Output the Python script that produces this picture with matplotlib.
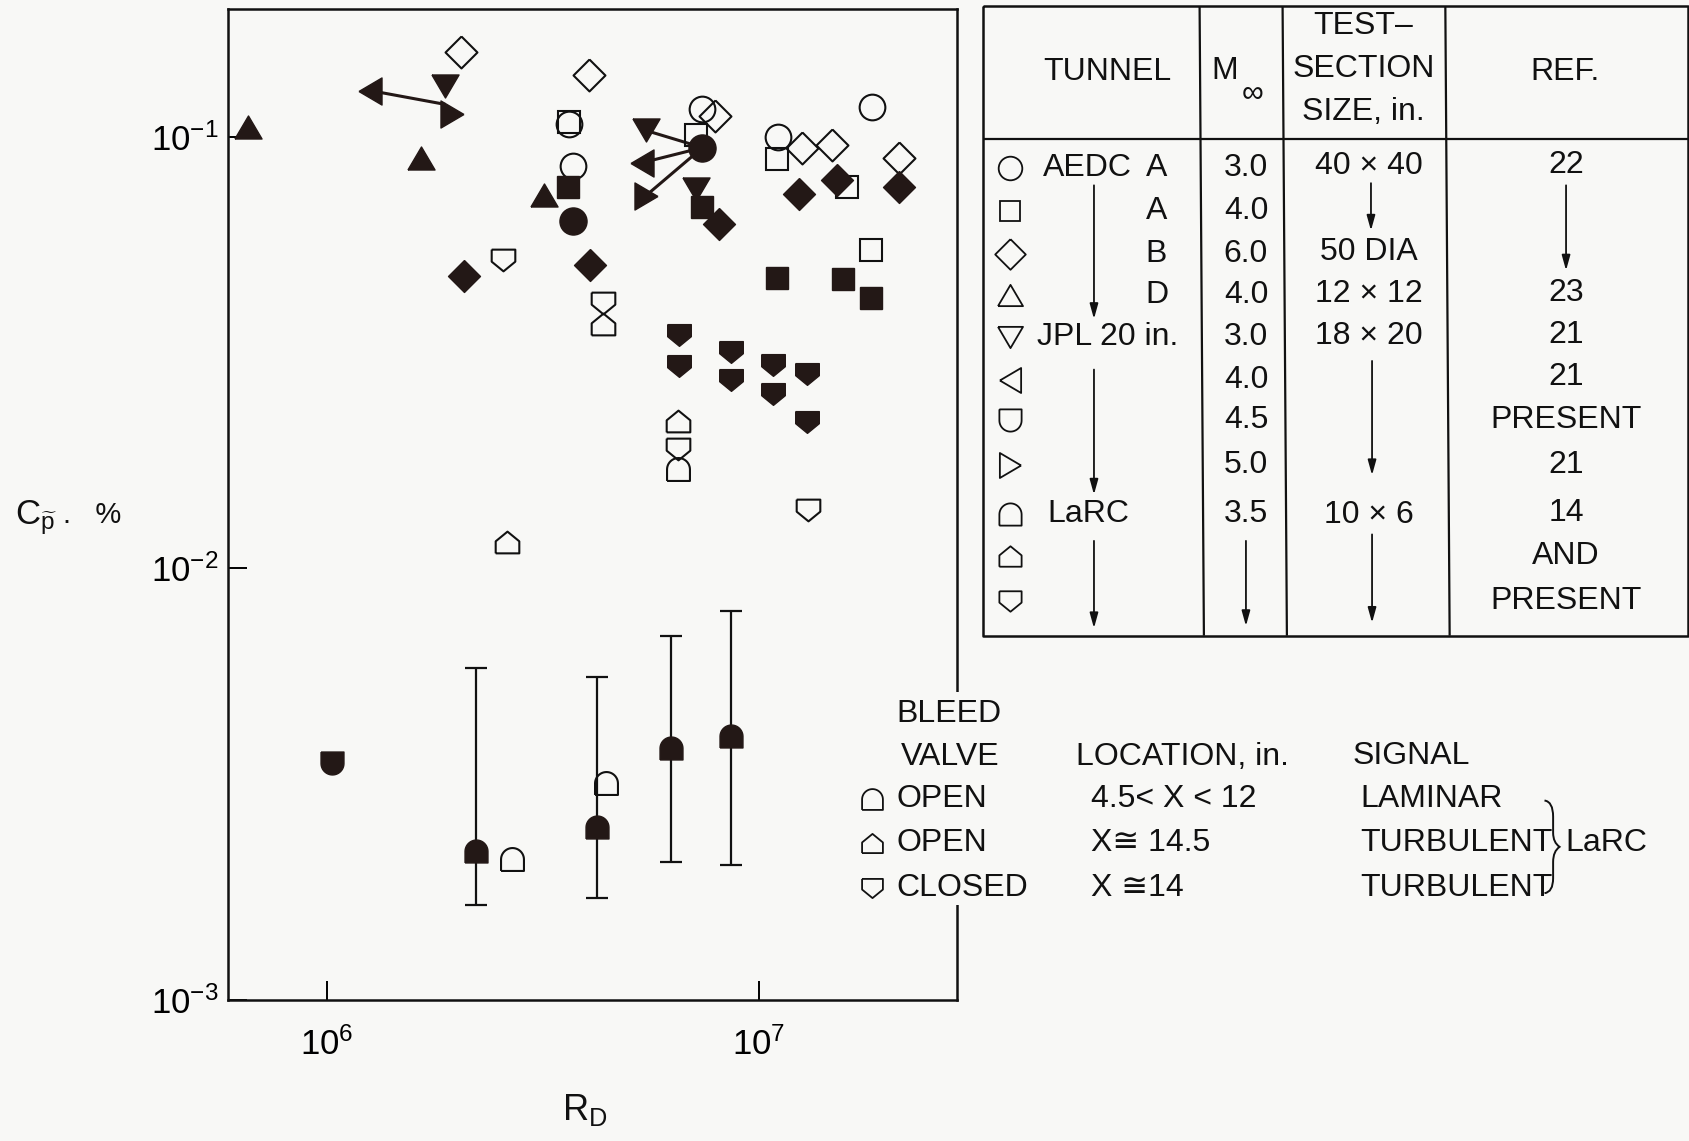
import numpy as np
import matplotlib
matplotlib.use('Agg')
import matplotlib.pyplot as plt
from matplotlib.path import Path
from matplotlib.patches import PathPatch, Rectangle

plt.rcParams['font.family'] = ['Liberation Sans', 'DejaVu Sans']
plt.rcParams['mathtext.fontset'] = 'custom'
plt.rcParams['mathtext.rm'] = 'Liberation Sans'
plt.rcParams['mathtext.it'] = 'Liberation Sans'

# ---------------- data (R_D, C_p %) ----------------
circ_open_x = [3.64e6, 3.71e6, 7.41e6, 1.11e7, 1.83e7]
circ_open_y = [0.107, 0.0857, 0.116, 0.100, 0.1175]
circ_fill_x = [3.71e6, 7.41e6]
circ_fill_y = [0.0638, 0.0944]
sq_open_x = [3.64e6, 7.16e6, 1.10e7, 1.60e7, 1.82e7]
sq_open_y = [0.108, 0.101, 0.0886, 0.0764, 0.0547]
sq_fill_x = [3.62e6, 7.38e6, 1.10e7, 1.57e7, 1.82e7]
sq_fill_y = [0.0764, 0.0689, 0.0471, 0.0468, 0.0422]
dia_open_x = [2.05e6, 4.04e6, 7.94e6, 1.26e7, 1.48e7, 2.11e7]
dia_open_y = [0.157, 0.139, 0.1115, 0.0944, 0.0955, 0.0892]
dia_fill_x = [2.08e6, 4.08e6, 8.09e6, 1.24e7, 1.52e7, 2.11e7]
dia_fill_y = [0.0476, 0.0505, 0.0629, 0.0738, 0.0795, 0.0764]
triu_fill_x = [6.58e5, 1.65e6, 3.19e6]
triu_fill_y = [0.1053, 0.0892, 0.0733]
trid_fill_x = [1.88e6, 5.47e6, 7.16e6]
trid_fill_y = [0.131, 0.1035, 0.0755]
tril_fill_x = [1.26e6, 5.38e6]
tril_fill_y = [0.128, 0.0871]
trir_fill_x = [1.95e6, 5.47e6]
trir_fill_y = [0.1128, 0.0729]
dd_fill_x = [1.03e6]
dd_fill_y = [0.00354]
# LaRC
pdn_open_x = [2.56e6, 4.35e6, 6.50e6, 1.30e7]
pdn_open_y = [0.0517, 0.0412, 0.0189, 0.01368]
pup_open_x = [4.35e6, 6.50e6, 2.61e6]
pup_open_y = [0.0368, 0.0219, 0.0115]
pdn_fill_x = [6.54e6, 6.54e6, 8.61e6, 8.61e6, 1.08e7, 1.08e7, 1.29e7, 1.29e7]
pdn_fill_y = [0.0347, 0.0294, 0.0317, 0.0273, 0.0296, 0.0253, 0.0282, 0.0218]
dome_open_x = [6.50e6, 2.69e6, 4.43e6]
dome_open_y = [0.0170, 0.00212, 0.00318]
dome_fill_x = [2.22e6, 4.22e6, 6.25e6, 8.61e6]
dome_fill_y = [0.00221, 0.00251, 0.00384, 0.00409]
dome_fill_hi = [0.00587, 0.00561, 0.00698, 0.00796]
dome_fill_lo = [0.00166, 0.00172, 0.00209, 0.00205]
# connector lines
link1_x = [1.26e6, 1.87e6]
link1_y = [0.128, 0.119]
link_hub = (7.41e6, 0.0944)
link_ends_x = [5.47e6, 5.38e6, 5.47e6]
link_ends_y = [0.1035, 0.0871, 0.0729]

BG = '#f8f8f6'
DARK = '#231816'

# ---------------- marker shapes ----------------
t = np.linspace(0, np.pi, 25)
dome_v = [(-1, -1), (1, -1), (1, 0)] + [(np.cos(a), np.sin(a)) for a in t[1:-1]] + [(-1, 0), (-1, -1)]
ddown_v = [(x, -y) for x, y in dome_v]
pup_v = [(-1, -0.92), (1, -0.92), (1, 0.1), (0, 0.92), (-1, 0.1), (-1, -0.92)]
pdn_v = [(x, -y) for x, y in pup_v]
tri_u = [(-1, -0.85), (1, -0.85), (0, 0.85), (-1, -0.85)]
tri_d = [(x, -y) for x, y in tri_u]
tri_l = [(-0.85, 0), (0.85, 1), (0.85, -1), (-0.85, 0)]
tri_r = [(-x, y) for x, y in tri_l]
dia_v = [(0, 1), (1, 0), (0, -1), (-1, 0), (0, 1)]

MS = {'o': 18.5, 's': 16.5, 'dia': 23, 'tri': 19.5, 'pent': 17, 'dome': 16.5}

fig = plt.figure(figsize=(16.9, 11.41), dpi=100)
fig.patch.set_facecolor(BG)
L, R, T, B = 212 / 1568, 888 / 1568, 8 / 1059, 928 / 1059
ax = fig.add_axes([L, 1 - B, R - L, B - T])
ax.set_facecolor(BG)
ax.set_xscale('log')
ax.set_yscale('log')
ax.set_xlim(10 ** 5.773, 10 ** 7.459)
ax.set_ylim(1e-3, 10 ** -0.703)
ax.set_xticks([1e6, 1e7])
ax.set_xticklabels([r'$\mathregular{10^{6}}$', r'$\mathregular{10^{7}}$'])
ax.set_yticks([1e-3, 1e-2, 1e-1])
ax.set_yticklabels([r'$\mathregular{10^{-3}}$', r'$\mathregular{10^{-2}}$', r'$\mathregular{10^{-1}}$'])
ax.xaxis.set_minor_locator(matplotlib.ticker.NullLocator())
ax.yaxis.set_minor_locator(matplotlib.ticker.NullLocator())
ax.tick_params(axis='x', direction='in', length=14, width=1.4, labelsize=25, pad=20)
ax.tick_params(axis='y', direction='in', length=14, width=1.4, labelsize=25, pad=7)
for sp in ax.spines.values():
    sp.set_linewidth(1.8)
    sp.set_color('#111111')

# connectors
ax.plot(link1_x, link1_y, color=DARK, lw=2.2, zorder=2)
for ex, ey in zip(link_ends_x, link_ends_y):
    ax.plot([link_hub[0], ex], [link_hub[1], ey], color=DARK, lw=2.2, zorder=2)

# error bars
ax.errorbar(dome_fill_x, dome_fill_y,
            yerr=[np.array(dome_fill_y) - np.array(dome_fill_lo), np.array(dome_fill_hi) - np.array(dome_fill_y)],
            fmt='none', ecolor='#111111', elinewidth=1.6, capsize=8, capthick=1.6, zorder=2)


def openm(x, y, m, ms):
    ax.plot(x, y, ls='none', marker=m, ms=ms, mfc='none', mec='#111111', mew=1.5, zorder=3)


def fillm(x, y, m, ms):
    ax.plot(x, y, ls='none', marker=m, ms=ms, mfc=DARK, mec=DARK, mew=1.0, zorder=4)


openm(circ_open_x, circ_open_y, 'o', MS['o'])
openm(sq_open_x, sq_open_y, 's', MS['s'])
openm(dia_open_x, dia_open_y, dia_v, MS['dia'])
fillm(sq_fill_x, sq_fill_y, 's', MS['s'])
fillm(dia_fill_x, dia_fill_y, dia_v, MS['dia'])
fillm(circ_fill_x, circ_fill_y, 'o', MS['o'] + 1)
fillm(triu_fill_x, triu_fill_y, tri_u, MS['tri'])
fillm(trid_fill_x, trid_fill_y, tri_d, MS['tri'])
fillm(tril_fill_x, tril_fill_y, tri_l, MS['tri'])
fillm(trir_fill_x, trir_fill_y, tri_r, MS['tri'])
fillm(dd_fill_x, dd_fill_y, ddown_v, MS['dome'])
openm(pdn_open_x, pdn_open_y, pdn_v, MS['pent'])
openm(pup_open_x, pup_open_y, pup_v, MS['pent'])
fillm(pdn_fill_x, pdn_fill_y, pdn_v, MS['pent'])
openm(dome_open_x, dome_open_y, dome_v, MS['dome'])
fillm(dome_fill_x, dome_fill_y, dome_v, MS['dome'])

# ---------------- overlay (pixel coords of shrunk reference) ----------------
ov = fig.add_axes([0, 0, 1, 1])
ov.set_xlim(0, 1568)
ov.set_ylim(1059, 0)
ov.axis('off')
ov.patch.set_alpha(0)

FS = 23
K = '#111111'

# gap in the right spine behind the bleed-valve legend
ov.add_patch(Rectangle((882, 642), 14, 198, fc=BG, ec='none', zorder=1))


def txt(x, y, s, ha='left', fs=FS, va='center'):
    ov.text(x, y, s, ha=ha, va=va, fontsize=fs, color=K, zorder=3)


def line(xs, ys, lw=1.6):
    ov.plot(xs, ys, color=K, lw=lw, solid_capstyle='butt')


def arrow(x, y0, y1):
    ov.annotate('', xy=(x, y1), xytext=(x, y0),
                arrowprops=dict(arrowstyle='-|>,head_length=0.9,head_width=0.25', lw=1.3, color=K,
                                shrinkA=0, shrinkB=0))


# axis labels
txt(14, 480, r'$C_{\widetilde{p}}$', fs=25)
txt(58, 478, '.   %', fs=21)
txt(543, 1030, r'$\mathregular{R_D}$', ha='center', fs=26)

# table frame
line([912, 1566, 1566, 912, 912], [6, 6, 590, 590, 6], lw=1.8)
line([912, 1566], [129, 129], lw=1.6)
line([1113, 1117], [6, 590])
line([1190, 1194], [6, 590])
line([1341, 1345], [6, 590])

# headers
txt(1027, 67, 'TUNNEL', ha='center')
txt(1124, 66, 'M')
txt(1152, 86, '∞', fs=22)
txt(1265, 24, 'TEST–', ha='center')
txt(1265, 64, 'SECTION', ha='center')
txt(1265, 104, 'SIZE, in.', ha='center')
txt(1452, 67, 'REF.', ha='center')

rows_y = [156, 196, 236, 274, 313, 353, 390, 432, 477, 516, 558]
tab_markers = ['o', 's', dia_v, tri_u, tri_d, tri_l, ddown_v, tri_r, dome_v, pup_v, pdn_v]
tab_ms = [17, 15, 22, 18, 18, 18, 16, 18, 16, 16, 16]
for y, m, ms in zip(rows_y, tab_markers, tab_ms):
    ov.plot([937], [y], ls='none', marker=m, ms=ms, mfc='none', mec=K, mew=1.3)

tunnel_txt = [(968, 156, 'AEDC'), (1063, 156, 'A'), (1063, 196, 'A'), (1063, 236, 'B'),
              (1063, 274, 'D'), (962, 313, 'JPL 20 in.'), (972, 477, 'LaRC')]
for x, y, s in tunnel_txt:
    txt(x, y, s)
mach_vals = ['3.0', '4.0', '6.0', '4.0', '3.0', '4.0', '4.5', '5.0', '3.5']
for y, s in zip(rows_y, mach_vals):
    txt(1156, y, s, ha='center')
size_txt = [(154, '40 × 40'), (234, '50 DIA'), (273, '12 × 12'), (312, '18 × 20'), (478, '10 × 6')]
for y, s in size_txt:
    txt(1270, y, s, ha='center')
ref_txt = [(153, '22'), (272, '23'), (311, '21'), (350, '21'), (390, 'PRESENT'), (432, '21'),
           (476, '14'), (516, 'AND'), (558, 'PRESENT')]
for y, s in ref_txt:
    txt(1453, y, s, ha='center')

arrow(1015, 172, 296)
arrow(1015, 343, 459)
arrow(1015, 502, 583)
arrow(1156, 502, 581)
arrow(1272, 170, 214)
arrow(1273, 335, 441)
arrow(1273, 496, 578)
arrow(1453, 172, 251)

# bleed-valve legend
txt(832, 663, 'BLEED')
txt(836, 703, 'VALVE')
txt(998, 703, 'LOCATION, in.')
txt(1255, 702, 'SIGNAL')
leg_y = [742, 782, 824]
leg_m = [dome_v, pup_v, pdn_v]
leg_a = ['OPEN', 'OPEN', 'CLOSED']
leg_b = ['4.5< X < 12', 'X≅ 14.5', 'X ≅14']
leg_c = ['LAMINAR', 'TURBULENT', 'TURBULENT']
for y, m, a, b, c in zip(leg_y, leg_m, leg_a, leg_b, leg_c):
    ov.plot([809], [y], ls='none', marker=m, ms=15, mfc='none', mec=K, mew=1.3)
    txt(832, y, a)
    txt(1012, y, b)
    txt(1262, y, c)
txt(1452, 782, 'LaRC')

# brace
bv = [(1433, 743), (1441, 744), (1441, 758), (1441, 773), (1441, 782), (1447, 786),
      (1441, 790), (1441, 800), (1441, 815), (1441, 828), (1433, 829)]
bc = [Path.MOVETO, Path.CURVE3, Path.CURVE3, Path.LINETO, Path.CURVE3, Path.CURVE3,
      Path.CURVE3, Path.CURVE3, Path.LINETO, Path.CURVE3, Path.CURVE3]
ov.add_patch(PathPatch(Path(bv, bc), fc='none', ec=K, lw=1.4))

fig.savefig('out.png', dpi=100, facecolor=BG)
